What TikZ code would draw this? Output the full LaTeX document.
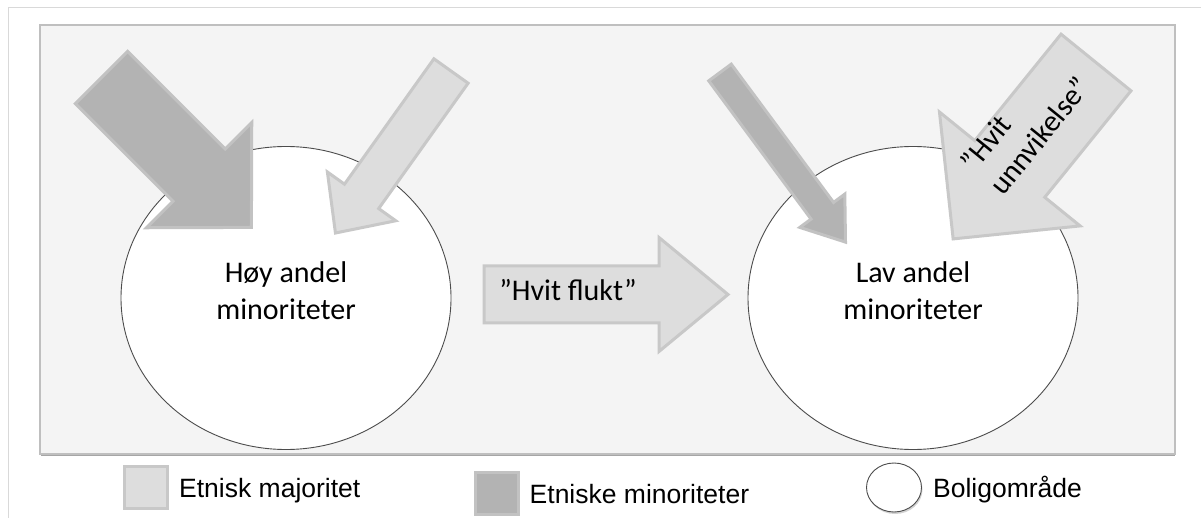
\documentclass[tikz,border=0pt]{standalone}
\usepackage{fontspec}
\setmainfont{Carlito}
\newfontfamily\arialfont{Liberation Sans}
\usetikzlibrary{positioning,shapes.geometric,shadows}

\definecolor{panel}{HTML}{F4F4F4}
\definecolor{majfill}{HTML}{DDDDDD}
\definecolor{majline}{HTML}{C8C8C8}
\definecolor{minfill}{HTML}{B3B3B3}
\definecolor{minline}{HTML}{C2C2C2}

% block arrow: style, tail, angle, length, half shaft, half head, head length
\newcommand{\blokkpil}[7]{%
  \begin{scope}[shift={#2},rotate=#3]
    \filldraw[#1] (0,-#5) -- ({#4-#7},-#5) -- ({#4-#7},-#6) -- (#4,0)
      -- ({#4-#7},#6) -- ({#4-#7},#5) -- (0,#5) -- cycle;
  \end{scope}}

\tikzset{
  majpil/.style={fill=majfill,draw=majline,line width=3pt,line join=miter},
  minpil/.style={fill=minfill,draw=minline,line width=3pt,line join=miter},
  omraade/.style={ellipse,draw=black!70,fill=white,line width=0.9pt,
    minimum width=330pt,minimum height=303pt,inner sep=0pt},
  omraadetekst/.style={align=center,inner sep=0pt,font=\fontsize{30}{37}\selectfont},
  forklaring/.style={inner sep=0pt,text height=20pt,text depth=0pt,
    font=\arialfont\fontsize{26.5}{30}\selectfont},
  rute/.style={line width=3pt,minimum width=43pt,minimum height=42pt,inner sep=0pt}
}

\begin{document}
\begin{tikzpicture}[x=1pt,y=-1pt]
  \useasboundingbox (0,0) rectangle (1201,518);
  \fill[white] (0,0) rectangle (1201,518);
  \draw[black!15,line width=1pt] (8,518) -- (8,8) -- (1201,8);
  \filldraw[fill=panel,draw=black!25,line width=1.5pt] (40,25) rectangle (1175,454);
  \draw[black!35,line width=1pt] (41,455.5) -- (1175,455.5);

  % boligomraader
  \node[omraade] (hoy) at (286,298) {};
  \node[omraade] (lav) at (913,298) {};
  \node[omraadetekst] (hoytekst) at ([yshift=7pt]hoy.center) {Høy andel\\minoriteter};
  \node[omraadetekst] (lavtekst) at ([yshift=7pt]lav.center) {Lav andel\\minoriteter};

  % tilflytting
  \blokkpil{minpil}{(101.5,77.5)}{-45}{212}{37}{74.5}{74}
  \blokkpil{majpil}{(451,71)}{-125.5}{199}{21}{42}{45}
  \blokkpil{minpil}{(720,72.5)}{-53.5}{211}{14}{28}{39}
  \blokkpil{majpil}{(1096,62.5)}{-129}{227}{45}{90.5}{90}
  \node[omraadetekst,rotate=51,align=left] (unnvik) at (1025,124) {”Hvit\\unnvikelse”};

  % flytting mellom omraader
  \blokkpil{majpil}{(484,294.5)}{0}{244}{28.5}{57}{69}
  \node[omraadetekst] (flukt) at (568,290) {”Hvit flukt”};

  % forklaring
  \node[rute,fill=majfill,draw=majline] (rmaj) at (146,487.5) {};
  \node[forklaring,right=10pt of rmaj] (tmaj) {Etnisk majoritet};
  \node[rute,fill=minfill,draw=minline] (rmin) at (496.5,493) {};
  \node[forklaring,right=10pt of rmin] (tmin) {Etniske minoriteter};
  \node[ellipse,draw=black!70,fill=white,line width=0.9pt,minimum width=55pt,
    minimum height=49pt,inner sep=0pt,
    drop shadow={shadow xshift=1pt,shadow yshift=-2pt,opacity=0.35}] (rbol) at (894,487.5) {};
  \node[forklaring,right=11pt of rbol] (tbol) {Boligområde};
\end{tikzpicture}
\end{document}
